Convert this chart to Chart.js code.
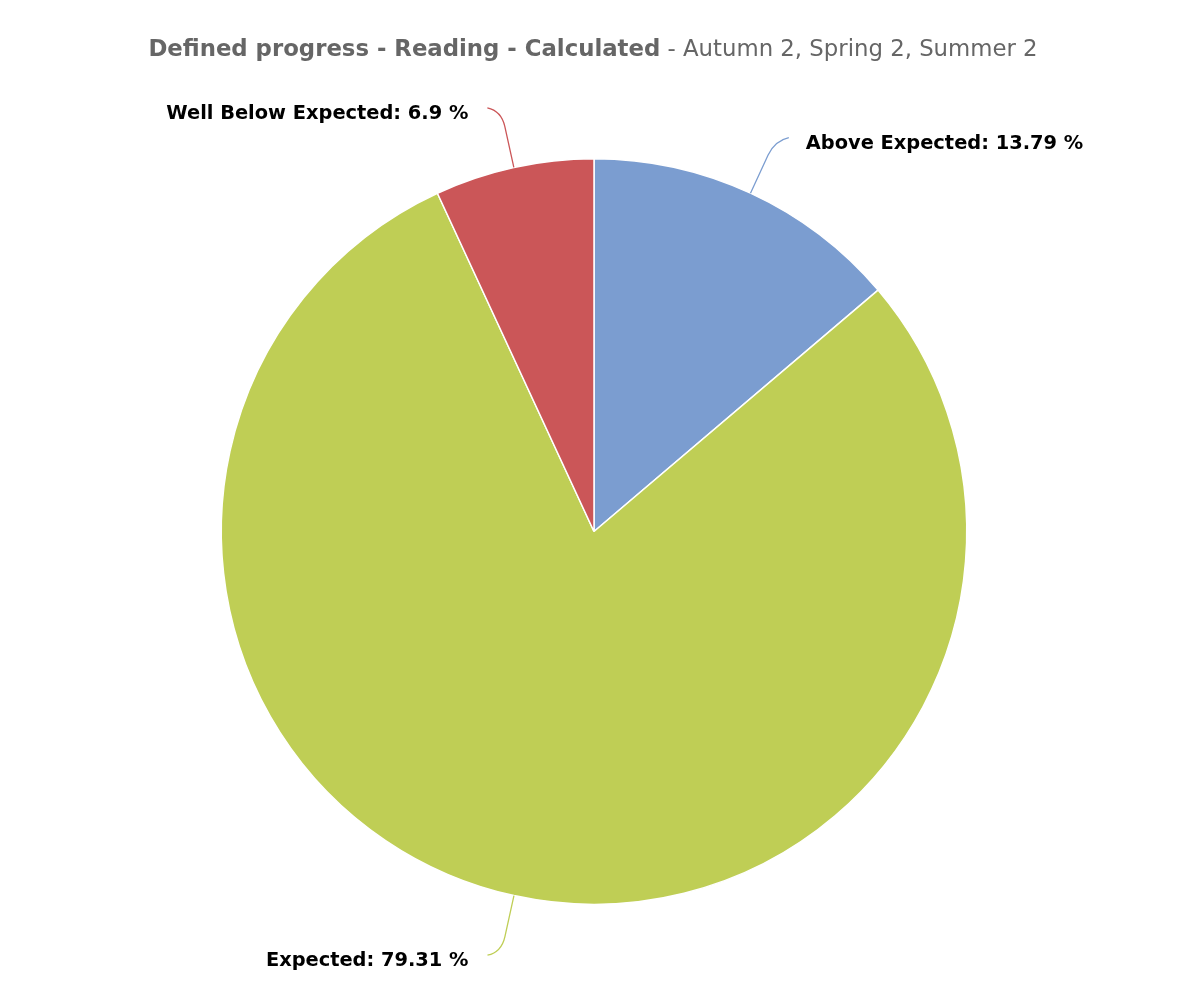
<!DOCTYPE html>
<html>
<head>
<meta charset="utf-8">
<script src="https://cdn.jsdelivr.net/npm/chart.js@4"></script>
<style>
  html, body { margin: 0; padding: 0; background: #fff; }
  #wrap { width: 1186px; height: 1004px; }
</style>
</head>
<body>
<div id="wrap"><canvas id="progressPie"></canvas></div>
<script>
// Data
const categories = ['Above Expected', 'Expected', 'Well Below Expected'];
const percentages = [13.79, 79.31, 6.9];
const sliceColors = ['#7b9dd0', '#bfce55', '#cb5658'];
const titleMain = 'Defined progress - Reading - Calculated';
const titleSub = ' - Autumn 2, Spring 2, Summer 2';

// Title with a bold part and a normal part
const titlePlugin = {
    id: 'mixedTitle',
    afterDraw(chart) {
        const ctx = chart.ctx;
        ctx.save();
        ctx.textBaseline = 'alphabetic';
        ctx.fillStyle = '#666666';
        const boldFont = 'bold 22.8px "DejaVu Sans"';
        const normalFont = '22.8px "DejaVu Sans"';
        ctx.font = boldFont;
        const w1 = ctx.measureText(titleMain).width;
        ctx.font = normalFont;
        const w2 = ctx.measureText(titleSub).width;
        let x = chart.width / 2 - (w1 + w2) / 2;
        ctx.font = boldFont;
        ctx.fillText(titleMain, x, 56);
        ctx.font = normalFont;
        ctx.fillText(titleSub, x + w1, 56);
        ctx.restore();
    }
};

// Outside labels with soft connectors
const labelPlugin = {
    id: 'outsideLabels',
    afterDatasetsDraw(chart) {
        const ctx = chart.ctx;
        const meta = chart.getDatasetMeta(0);
        ctx.save();
        meta.data.forEach((arc, i) => {
            const mid = (arc.startAngle + arc.endAngle) / 2;
            const r = arc.outerRadius;
            const cx = arc.x, cy = arc.y;
            const cos = Math.cos(mid), sin = Math.sin(mid);
            const right = cos >= 0;
            // edge of slice -> straight out -> soft bend towards label
            const sx = cx + cos * r, sy = cy + sin * r;
            const mx = cx + cos * (r + 42), my = cy + sin * (r + 42);
            const px = cx + cos * (r + 58), py = cy + sin * (r + 58);
            const ex = px + (right ? 14 : -14);
            const ey = py + (sin < 0 ? -3 : 3);
            ctx.beginPath();
            ctx.moveTo(sx, sy);
            ctx.lineTo(mx, my);
            ctx.quadraticCurveTo(px, py, ex, ey);
            ctx.strokeStyle = sliceColors[i];
            ctx.lineWidth = 1.3;
            ctx.stroke();

            ctx.font = 'bold 19.4px "DejaVu Sans"';
            ctx.fillStyle = '#000000';
            ctx.textBaseline = 'middle';
            ctx.textAlign = right ? 'left' : 'right';
            const text = categories[i] + ': ' + percentages[i] + ' %';
            ctx.fillText(text, ex + (right ? 17 : -19), ey + 6);
        });
        ctx.restore();
    }
};

new Chart(document.getElementById('progressPie'), {
    type: 'pie',
    data: {
        labels: categories,
        datasets: [{
            data: percentages,
            backgroundColor: sliceColors,
            borderColor: '#ffffff',
            borderWidth: 1.5
        }]
    },
    options: {
        responsive: true,
        maintainAspectRatio: false,
        animation: false,
        layout: { padding: { top: 158, bottom: 99, left: 2, right: 0 } },
        plugins: {
            legend: { display: false },
            tooltip: { enabled: false },
            title: { display: false }
        }
    },
    plugins: [titlePlugin, labelPlugin]
});
</script>
</body>
</html>
